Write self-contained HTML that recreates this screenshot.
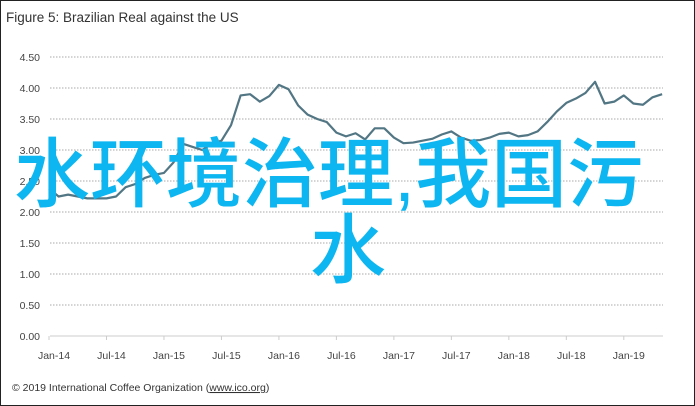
<!DOCTYPE html>
<html><head><meta charset="utf-8"><style>
body{margin:0;width:695px;height:406px;overflow:hidden;background:#fff;font-family:"Liberation Sans",sans-serif}
#frame{position:absolute;left:0;top:0;width:693px;height:404px;border:1px solid #222}
.ov{position:absolute;font-family:'Liberation Sans','Noto Sans CJK SC',sans-serif;font-size:76px;line-height:76px;color:#0db6f0;font-weight:500;white-space:nowrap}
</style></head><body>
<div id="frame"></div>
<svg id="chart" width="695" height="406" style="position:absolute;left:0;top:0">
<text x="6" y="22" font-size="13.5" fill="#333">Figure 5: Brazilian Real against the US</text>
<text x="12" y="391" font-size="10.5" fill="#333">© 2019 International Coffee Organization (<tspan text-decoration="underline">www.ico.org</tspan>)</text>
<g id="grid"></g><g id="axes"></g><g id="series"></g>
</svg>
<div class="ov" style="left:14px;top:138px">水环境治理,我国污</div>
<div class="ov" style="left:310px;top:214px">水</div>
<script>
const yTicks=[0,0.5,1,1.5,2,2.5,3,3.5,4,4.5];
const yTickLabels=["0.00","0.50","1.00","1.50","2.00","2.50","3.00","3.50","4.00","4.50"];
const xTickLabels=["Jan-14","Jul-14","Jan-15","Jul-15","Jan-16","Jul-16","Jan-17","Jul-17","Jan-18","Jul-18","Jan-19"];
const brlValues=[2.38,2.25,2.28,2.25,2.22,2.22,2.22,2.25,2.4,2.45,2.55,2.6,2.63,2.8,3.1,3.05,3.0,3.1,3.15,3.4,3.88,3.9,3.78,3.87,4.05,3.98,3.72,3.57,3.5,3.45,3.28,3.22,3.27,3.17,3.35,3.35,3.2,3.11,3.12,3.15,3.18,3.25,3.3,3.2,3.15,3.16,3.2,3.26,3.28,3.22,3.24,3.3,3.45,3.62,3.76,3.83,3.92,4.1,3.75,3.78,3.88,3.75,3.73,3.85,3.9];
const NS="http://www.w3.org/2000/svg";
const x0=49,mw=9.58,xEnd=663;
const X=i=>x0+mw*i, Y=v=>336-v*62;
const grid=document.getElementById('grid'),axes=document.getElementById('axes'),ser=document.getElementById('series');
function mk(tag,attrs,parent){const e=document.createElementNS(NS,tag);for(const k in attrs)e.setAttribute(k,attrs[k]);parent.appendChild(e);return e;}
yTicks.forEach((v,i)=>{
 if(v>0){const l=mk('line',{x1:50,x2:xEnd,y1:Y(v),y2:Y(v),stroke:'#bbb','stroke-width':1.2,'stroke-dasharray':'1.5 1.5'},grid);
 
 }
 const t=mk('text',{x:40,y:Y(v)+4,'font-size':10.5,fill:'#444','text-anchor':'end'},axes);
 t.textContent=yTickLabels[i];
 
 
});
const ax=mk('line',{x1:50,x2:xEnd,y1:336,y2:336,stroke:'#ccc','stroke-width':1},axes);


xTickLabels.forEach((s,i)=>{
 const xx=X(i*6);
 const tk=mk('line',{x1:xx,x2:xx,y1:336,y2:340,stroke:'#ccc'},axes);
 
 
 const t=mk('text',{x:xx+5,y:359,'font-size':10.5,fill:'#444','text-anchor':'middle'},axes);
 t.textContent=s;
 
 
});
const p=mk('polyline',{points:brlValues.map((v,i)=>X(i)+','+Y(v)).join(' '),fill:'none',stroke:'#527684','stroke-width':2.2,'stroke-linejoin':'round'},ser);


</script>
</body></html>
